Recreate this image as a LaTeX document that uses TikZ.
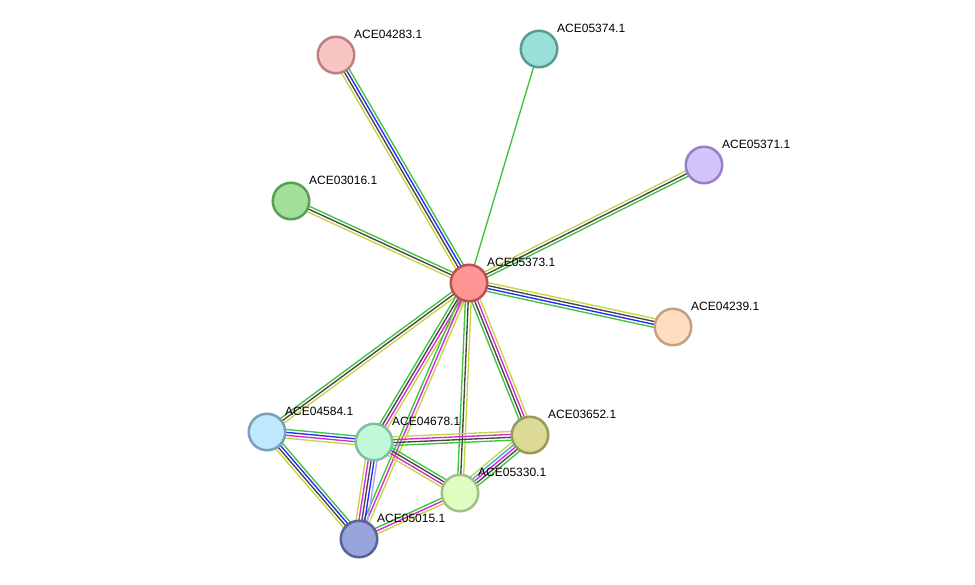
\documentclass[tikz,border=0pt]{standalone}
\usepackage{fontspec}
\setmainfont{Liberation Sans}
\usetikzlibrary{calc}
\pgfdeclarelayer{bg}
\pgfsetlayers{bg,main}
\definecolor{eG}{RGB}{62,196,62}
\definecolor{eK}{RGB}{70,70,70}
\definecolor{eB}{RGB}{40,40,250}
\definecolor{eM}{RGB}{215,40,215}
\definecolor{eY}{RGB}{196,214,70}
\definecolor{eC}{RGB}{60,170,220}
\definecolor{eL}{RGB}{165,165,250}
\definecolor{fa}{RGB}{255,150,150}\definecolor{sa}{RGB}{190,80,80}
\definecolor{fb}{RGB}{248,196,196}\definecolor{sb}{RGB}{190,128,128}
\definecolor{fc}{RGB}{152,224,216}\definecolor{sc}{RGB}{88,156,150}
\definecolor{fd}{RGB}{212,196,252}\definecolor{sd}{RGB}{150,128,200}
\definecolor{fe}{RGB}{160,224,152}\definecolor{se}{RGB}{92,158,88}
\definecolor{ff}{RGB}{255,222,192}\definecolor{sf}{RGB}{196,160,128}
\definecolor{fg}{RGB}{192,232,252}\definecolor{sg}{RGB}{120,160,188}
\definecolor{fh}{RGB}{192,248,216}\definecolor{sh}{RGB}{128,192,160}
\definecolor{fi}{RGB}{220,218,150}\definecolor{si}{RGB}{154,154,88}
\definecolor{fj}{RGB}{224,252,192}\definecolor{sj}{RGB}{160,192,136}
\definecolor{fk}{RGB}{152,164,220}\definecolor{sk}{RGB}{88,100,152}
\newcommand{\bund}[4]{%
  \foreach \c [count=\i] in {#4} {%
    \pgfmathsetmacro\o{(\i-(#3+1)/2)*2.9}%
    \draw[draw=\c, line width=1.35] ($(#1.center)!\o pt!90:(#2.center)$) -- ($(#2.center)!\o pt!-90:(#1.center)$);
  }}
\tikzset{
  prot/.style={circle, inner sep=0pt, minimum size=36.5, line width=2.5, fill=f#1, draw=s#1},
  lab/.style={anchor=base west, inner sep=0pt, font=\fontsize{12}{14}\selectfont}
}
\begin{document}
\begin{tikzpicture}[x=1pt,y=-1pt]
\useasboundingbox (0,0) rectangle (975,584);
\begin{pgfonlayer}{bg}
\fill[white] (0,0) rectangle (975,584);
\end{pgfonlayer}
% nodes
\node[prot=a] (a) at (469,283) {};
\node[prot=b] (b) at (336,55) {};
\node[prot=c] (c) at (539,49) {};
\node[prot=d] (d) at (704,165) {};
\node[prot=e] (e) at (291,201) {};
\node[prot=f] (f) at (673,327) {};
\node[prot=g] (g) at (267,432) {};
\node[prot=h] (h) at (374,442) {};
\node[prot=i] (i) at (530,435) {};
\node[prot=j] (j) at (460,493) {};
\node[prot=k] (k) at (359,539) {};
% labels
\node[lab] (la) at (487,266.5) {ACE05373.1};
\node[lab] (lb) at (354,38.5) {ACE04283.1};
\node[lab] (lc) at (557,32.5) {ACE05374.1};
\node[lab] (ld) at (722,148.5) {ACE05371.1};
\node[lab] (le) at (309,184.5) {ACE03016.1};
\node[lab] (lf) at (691,310.5) {ACE04239.1};
\node[lab] (lg) at (285,415.5) {ACE04584.1};
\node[lab] (lh) at (392,425.5) {ACE04678.1};
\node[lab] (li) at (548,418.5) {ACE03652.1};
\node[lab] (lj) at (478,476.5) {ACE05330.1};
\node[lab] (lk) at (377,522.5) {ACE05015.1};
% edges
\begin{pgfonlayer}{bg}
\bund{a}{b}{4}{eG,eB,eK,eY}
\bund{a}{c}{1}{eG}
\bund{a}{d}{3}{eG,eK,eY}
\bund{a}{e}{3}{eG,eK,eY}
\bund{a}{f}{4}{eG,eB,eK,eY}
\bund{a}{g}{3}{eG,eK,eY}
\bund{a}{h}{4}{eG,eK,eM,eY}
\bund{a}{k}{3}{eG,eM,eY}
\bund{a}{j}{3}{eG,eK,eY}
\bund{a}{i}{4}{eG,eK,eM,eY}
\bund{g}{h}{4}{eY,eM,eB,eG}
\bund{g}{k}{4}{eY,eK,eB,eG}
\bund{h}{i}{4}{eG,eK,eM,eY}
\bund{h}{j}{4}{eY,eM,eK,eG}
\bund{h}{k}{5}{eY,eM,eK,eB,eL}
\bund{i}{j}{5}{eY,eC,eM,eK,eG}
\bund{j}{k}{3}{eG,eM,eY}
\end{pgfonlayer}
\end{tikzpicture}
\end{document}
